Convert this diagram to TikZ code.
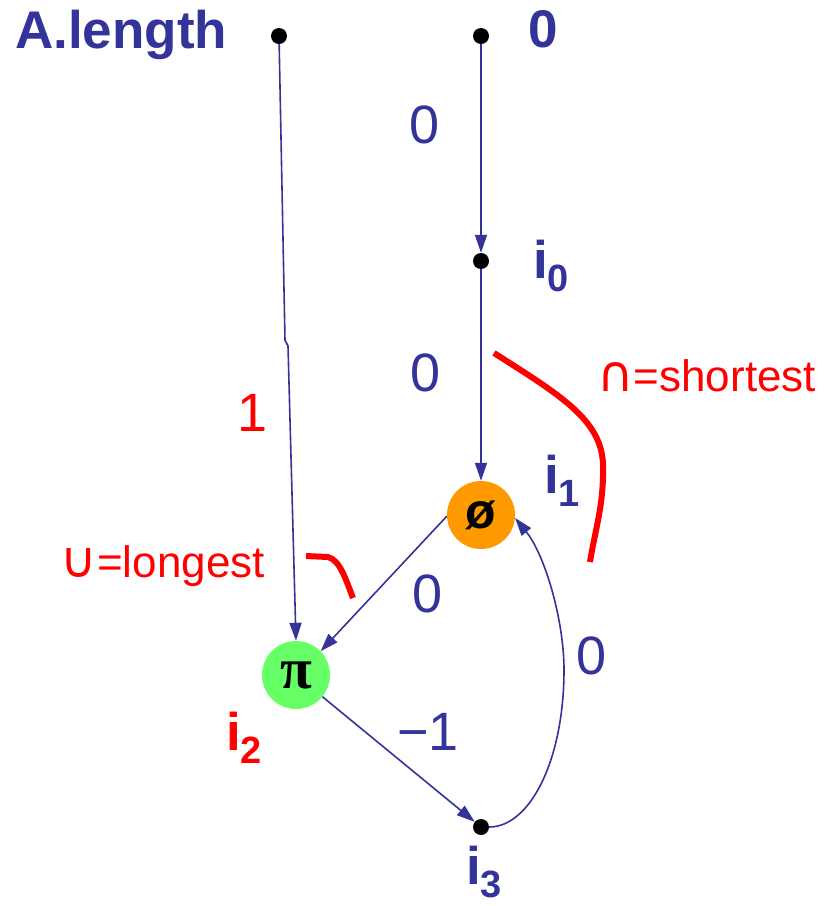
\documentclass[tikz,border=0pt]{standalone}
\usepackage{fontspec}
\setmainfont{Liberation Sans}
\newfontfamily\symfont{DejaVu Sans}
\newfontfamily\greekserif{Liberation Serif}
\usetikzlibrary{arrows.meta}
\definecolor{navy}{HTML}{333399}
\definecolor{redc}{HTML}{FF0000}
\definecolor{orangec}{HTML}{FF9900}
\definecolor{greenc}{HTML}{66FF66}
\newcommand\ilab[1]{\textbf{i}\raisebox{-13pt}{\fontsize{38}{40}\selectfont\textbf{#1}}}
\newcommand\bigsym[1]{{\symfont\fontsize{50}{50}\selectfont #1}}
\begin{document}
\begin{tikzpicture}[x=1pt,y=1pt,
  edge/.style={draw=navy, line width=1.6pt, -{Triangle[length=18pt,width=12pt]}},
  dotnode/.style={circle, fill=black, inner sep=0pt, minimum size=16pt},
  bignode/.style={circle, inner sep=0pt, minimum size=68pt},
  bigtxt/.style={font=\fontsize{53}{60}\selectfont, inner sep=0pt},
  wtxt/.style={font=\fontsize{54}{60}\selectfont, inner sep=0pt},
  smalltxt/.style={font=\fontsize{44}{50}\selectfont, inner sep=0pt},
  redpath/.style={draw=redc, line width=6pt}
]
\useasboundingbox (0,0) rectangle (826,-906);

% vertices
\node[dotnode] (alen) at (279,-36) {};
\node[dotnode] (top) at (481,-36) {};
\node[dotnode] (i0) at (481,-261) {};
\node[bignode, fill=orangec] (phi) at (481,-515) {\fontsize{50}{50}\selectfont\bfseries ø};
\node[bignode, fill=greenc] (pi) at (296,-675) {\greekserif\fontsize{58}{58}\selectfont\bfseries π};
\node[dotnode] (i3) at (481,-827) {};

% texts
\node[bigtxt, text=navy, anchor=base west] (alabel) at (15,-48) {\bfseries A.length};
\node[bigtxt, text=navy, anchor=base] (zlabel) at (543,-47) {\bfseries 0};
\node[bigtxt, text=navy, anchor=base west] (li0) at (533,-278) {\ilab{0}};
\node[bigtxt, text=navy, anchor=base west] (li1) at (544,-493) {\ilab{1}};
\node[bigtxt, text=redc, anchor=base west] (li2) at (226,-750) {\ilab{2}};
\node[bigtxt, text=navy, anchor=base west] (li3) at (466,-884) {\ilab{3}};

\node[wtxt, text=navy, anchor=base] (w1) at (425,-143) {0};
\node[wtxt, text=navy, anchor=base] (w2) at (426,-391) {0};
\node[wtxt, text=navy, anchor=base] (w3) at (428,-612) {0};
\node[wtxt, text=navy, anchor=base] (w4) at (592,-674) {0};
\node[wtxt, text=navy, anchor=base] (w5) at (428,-750) {−1};
\node[wtxt, text=redc, anchor=base] (w6) at (253,-431) {1};

\node[smalltxt, text=redc, anchor=base west] (short) at (597,-391) {\bigsym{∩}=shortest};
\node[smalltxt, text=redc, anchor=base east] (long) at (265,-577) {\bigsym{∪}=longest};

% edges
\draw[edge] (top) -- (i0);
\draw[edge] (i0) -- (phi);
\coordinate (k1) at (285,-340);
\coordinate (k2) at (288,-346);
\draw[edge] (alen) -- (k1) -- (k2) -- (pi.north);
\draw[edge] (phi.182) -- (pi.44);
\draw[edge] (pi) -- (i3);
\coordinate (bend) at (564,-670);
\draw[edge] (i3) .. controls (530,-827) and (564,-760) .. (bend)
  .. controls (564,-620) and (545,-555) .. (phi.-5);

% red brackets
\draw[redpath] (494,-353) .. controls (560,-395) and (602,-420) .. (603,-465)
  .. controls (604,-505) and (595,-530) .. (590,-562);
\draw[redpath] (306,-556) -- (328,-557) .. controls (340,-560) and (346,-580) .. (353,-598);
\end{tikzpicture}
\end{document}
